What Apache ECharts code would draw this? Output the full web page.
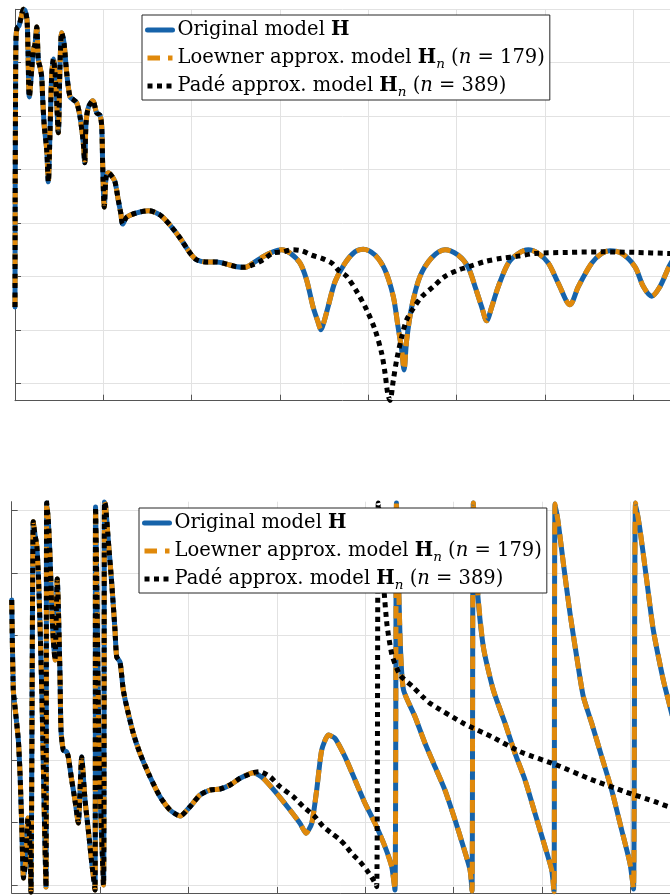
<!DOCTYPE html>
<html>
<head>
<meta charset="utf-8">
<script src="https://cdn.jsdelivr.net/npm/echarts@6/dist/echarts.min.js"></script>
<style>
  html, body { margin: 0; padding: 0; background: #fff; }
  #main { width: 670px; height: 895px; }
</style>
</head>
<body>
<div id="main"></div>
<script>
// magnitude plot (top)
var magTicks = [-70, -60, -50, -40, -30, -20, -10, 0];
var magX = [0, 0.002, 0.006, 0.011, 0.023, 0.045, 0.068, 0.096, 0.113, 0.136, 0.147, 0.162, 0.189, 0.207, 0.226, 0.246,
  0.264, 0.283, 0.302, 0.314, 0.332, 0.359, 0.377, 0.396, 0.415, 0.434, 0.464, 0.490, 0.509, 0.529, 0.555, 0.585,
  0.623, 0.660, 0.699, 0.736, 0.773, 0.789, 0.804, 0.830, 0.880, 0.925, 0.962, 0.982, 0.993, 1.011, 1.030, 1.056,
  1.095, 1.132, 1.169, 1.197, 1.219, 1.265, 1.378, 1.509, 1.642, 1.755, 1.868, 1.981, 2.057, 2.170, 2.283, 2.397,
  2.510, 2.604,
  2.695, 2.808, 2.921, 3.019, 3.113, 3.227, 3.302, 3.374, 3.430, 3.464, 3.498, 3.544, 3.623, 3.736, 3.849, 3.943,
  4.076, 4.189, 4.283, 4.336, 4.378, 4.404, 4.434, 4.491, 4.585, 4.717, 4.868, 5.015, 5.128, 5.208, 5.283, 5.340,
  5.397, 5.471, 5.585, 5.698, 5.811, 5.924, 6.038, 6.151, 6.283, 6.377, 6.529, 6.642, 6.736, 6.869, 7.019, 7.113,
  7.208, 7.302, 7.415, 7.53];
var magOrig = [-55.7, -35.7, -16.9, -5.7, -3.5, -3.1, -1.6, 0.0, -0.2, -2.0, -7.6, -16.4, -11.3, -7.6, -6.6, -3.3,
  -9.5, -10.8, -12.6, -16.9, -22.0, -26.3, -32.3, -23.1, -12.6, -9.3, -14.5, -23.1, -10.8, -4.4, -6.3, -11.9,
  -16.4, -16.9, -17.5, -20.1, -25.0, -28.7, -21.3, -18.4, -17.1, -19.4, -19.8, -22.0, -29.5, -37.0, -31.6, -30.6,
  -31.2, -32.3, -35.7, -38.1, -40.2, -38.9, -38.1, -37.7, -38.5, -40.4, -42.8, -45.6, -46.9, -47.3, -47.3, -47.7,
  -48.2, -48.3,
  -47.5, -46.3, -45.4, -45.0, -45.6, -47.5, -50.7, -55.7, -58.5, -60.0, -58.5, -55.7, -51.0, -47.5, -45.4, -44.9,
  -46.0, -48.8, -53.8, -59.4, -63.8, -67.5, -61.9, -55.7, -50.0, -46.5, -45.0, -46.0, -48.2, -51.9, -55.7, -58.3,
  -55.7, -51.9, -47.5, -45.7, -45.0, -45.7, -47.5, -51.3, -55.3, -51.9, -47.5, -45.7, -45.2, -45.7, -48.2, -51.9,
  -53.7, -51.9, -47.8, -45.0];
// Padé follows the original up to here, then its own tail
var magShared = 66;
var magPadeTailX = [2.695, 2.808, 2.921, 3.034, 3.133, 3.246, 3.359, 3.472, 3.585, 3.660, 3.755, 3.868, 3.982, 4.076,
  4.151, 4.189, 4.219, 4.245, 4.283, 4.321, 4.378, 4.434, 4.509, 4.604, 4.736, 4.868, 5.019, 5.132, 5.321, 5.510,
  5.698, 5.887, 6.264, 6.642, 7.019, 7.396, 7.64];
var magPadeTail = [-47.8, -46.9, -45.6, -45.4, -45.0, -45.2, -46.0, -46.6, -47.5, -48.8, -50.0, -52.8, -56.3, -60.0,
  -64.4, -68.1, -71.9, -73.2, -69.4, -65.6, -61.3, -58.1, -56.0, -53.8, -51.9, -50.0, -48.8, -48.2, -47.2, -46.6,
  -46.2, -45.7, -45.5, -45.4, -45.5, -45.7, -45.8];

// phase plot (bottom)
var phaseTicks = [-180, -120, -60, 0, 60, 120, 180];
var phaseX = [0, 0.018, 0.037, 0.075, 0.094, 0.113, 0.134, 0.162, 0.184, 0.207, 0.218, 0.244, 0.264, 0.283, 0.301,
  0.320, 0.343, 0.366, 0.388, 0.396, 0.414, 0.434, 0.453, 0.471, 0.490, 0.516, 0.528, 0.547, 0.558, 0.584, 0.623,
  0.641, 0.679, 0.716, 0.754, 0.774, 0.792, 0.830, 0.867, 0.906, 0.943, 0.949, 0.966, 0.988, 1.039, 1.050, 1.062,
  1.093, 1.132, 1.169, 1.188, 1.226, 1.263, 1.302, 1.376, 1.452, 1.565, 1.679, 1.792, 1.906, 2.018, 2.131, 2.244,
  2.358, 2.471, 2.584, 2.735,
  2.848, 2.999, 3.150, 3.263, 3.331, 3.396, 3.452, 3.509, 3.584, 3.659, 3.772, 3.886, 3.999, 4.112, 4.225, 4.301,
  4.338, 4.355, 4.378, 4.401, 4.435, 4.565, 4.678, 4.791, 4.904, 5.018, 5.112, 5.188, 5.210, 5.225, 5.263, 5.338,
  5.451, 5.584, 5.697, 5.810, 5.923, 6.036, 6.112, 6.138, 6.150, 6.187, 6.244, 6.319, 6.395, 6.470, 6.565, 6.678,
  6.791, 6.904, 6.998, 7.038, 7.061, 7.112, 7.187, 7.262, 7.375, 7.432, 7.474];
var phaseOrig = [94.0, 7.5, -8.6, -40.6, -72.3, -120.4, -173.3, -153.1, -115.6, -141.5, -186.7, 169.3, 156.5, 146.9,
  120, 71.9, -2.1, -98.3, -181.9, 187.3, 171, 135.4, 87.3, 55.6, 36.3, 114.2, 87.3, 20, -31, -50.2, -52.1, -56.9,
  -79, -98.3, -120.4, -88.7, -56.9, -98.3, -127.1, -158.8, -184.8, 183.5, 94, -50.2, -180, 188.3, 185.4, 151.7,
  110.4, 65.2, 39.5, 34.4, 7.5, -8.6, -34.1, -53.4, -75.9, -95.1, -107.9, -113.7, -104.7, -93.5, -88.7, -87.7,
  -83.8, -77.4, -72,
  -77.4, -91.8, -107.9, -120.7, -130.3, -120.7, -88.7, -50.2, -35.8, -38.9, -56.6, -79, -101.4, -120.7, -143.2,
  -162.4, -184.8, 187.3, 113.3, 46, 7.5, -18.2, -43.7, -66.2, -88.7, -117.5, -143.2, -165.6, -185.8, 187.3, 113.3,
  49.1, 7.5, -24.5, -53.4, -79, -111.1, -143.2, -165.6, -186.4, 186.3, 167.8, 129.3, 81.3, 39.5, 1.1, -24.5, -56.6,
  -88.7, -127.1, -159.1, -183.8, 187.3, 161.3, 113.3, 65.2, 17.1, -2.1, -16.5];
var phaseShared = 67;
var phasePadeTailX = [2.811, 2.924, 3.037, 3.187, 3.300, 3.433, 3.527, 3.622, 3.697, 3.773, 3.848, 3.942, 4.018,
  4.093, 4.131, 4.149, 4.180, 4.214, 4.248, 4.304, 4.395, 4.542, 4.655, 4.735, 5.112, 5.433, 5.753, 6.169, 6.526,
  6.942, 7.281, 7.432, 7.68];
var phasePadeTail = [-71.1, -75.9, -85.5, -95.1, -104.7, -114.3, -123.9, -130.3, -135.1, -141.5, -149.5, -157.6,
  -165.6, -175.2, -181.6, 187.3, 151.7, 103.7, 70, 41.2, 21.9, 10.4, 0.8, -5.3, -24.5, -37.4, -51.8, -64.6, -77.4,
  -90.3, -99.9, -104.7, -109.8];

var names = ['orig', 'loew', 'pade'];
var legendText = {
  orig: 'Original model {b|H}',
  loew: 'Loewner approx. model {b|H}{s|n} ({i|n} = 179)',
  pade: 'Padé approx. model {b|H}{s|n} ({i|n} = 389)'
};

function zip(xs, ys) {
  return xs.map(function (x, i) { return [x, ys[i]]; });
}

var blue = '#1663aa';
var orange = '#e0890b';
var serif = 'DejaVu Serif';
var fs = 19.5;

var magData = zip(magX, magOrig);
var magPade = zip(magX.slice(0, magShared).concat(magPadeTailX), magOrig.slice(0, magShared).concat(magPadeTail));
var phaseData = zip(phaseX, phaseOrig);
var phasePade = zip(phaseX.slice(0, phaseShared).concat(phasePadeTailX), phaseOrig.slice(0, phaseShared).concat(phasePadeTail));

function lineSeries(name, idx, data, style, smooth) {
  return {
    name: name,
    type: 'line',
    xAxisIndex: idx,
    yAxisIndex: idx,
    data: data,
    symbol: 'none',
    smooth: smooth,
    clip: false,
    color: style.color,
    animation: false,
    lineStyle: style
  };
}

var blueStyle = { color: blue, width: 5, cap: 'round', join: 'round' };
var orangeStyle = { color: orange, width: 5, type: [12.5, 8], cap: 'butt', join: 'round' };
var dotStyle = { color: '#000', width: 5, type: [5, 4.5], cap: 'butt', join: 'miter' };

function legendBox(left, top) {
  return {
    data: names,
    orient: 'vertical',
    left: left,
    top: top,
    padding: [2, 5, 1, 3],
    itemGap: 2,
    itemWidth: 25,
    itemHeight: 14,
    backgroundColor: '#fff',
    borderColor: '#262626',
    borderWidth: 1,
    borderRadius: 0,
    selectedMode: false,
    itemStyle: { opacity: 0 },
    lineStyle: { width: 5 },
    formatter: function (name) { return legendText[name]; },
    textStyle: {
      fontFamily: serif, fontSize: fs, color: '#000', lineHeight: 26,
      rich: {
        b: { fontFamily: serif, fontSize: fs, fontWeight: 'bold', color: '#000', lineHeight: 26 },
        i: { fontFamily: serif, fontSize: fs, fontStyle: 'italic', color: '#000', lineHeight: 26 },
        s: { fontFamily: serif, fontSize: 13.5, fontStyle: 'italic', color: '#000', lineHeight: 26, verticalAlign: 'bottom' }
      }
    }
  };
}

function xAxisFor(idx, max) {
  return {
    type: 'value',
    gridIndex: idx,
    min: 0,
    max: max,
    interval: 1,
    axisLine: { onZero: false, lineStyle: { color: '#555', width: 1 } },
    axisTick: { inside: true, length: 6, lineStyle: { color: '#555' } },
    axisLabel: { show: false },
    splitLine: { show: true, lineStyle: { color: '#e2e2e2', width: 1 } }
  };
}

function yAxisFor(idx, min, max, ticks) {
  return {
    type: 'value',
    gridIndex: idx,
    min: min,
    max: max,
    axisLine: { show: true, onZero: false, lineStyle: { color: '#555', width: 1 } },
    axisTick: { show: true, inside: true, length: 6, customValues: ticks, lineStyle: { color: '#555' } },
    axisLabel: { show: false, customValues: ticks },
    splitLine: { show: true, lineStyle: { color: '#e2e2e2', width: 1 } }
  };
}

var chart = echarts.init(document.getElementById('main'), null, { renderer: 'canvas' });

var option = {
  backgroundColor: '#fff',
  animation: false,
  grid: [
    { left: 15, right: 0, top: 9.3, height: 391.4 },
    { left: 11.7, right: 0, top: 501.7, height: 391.3 }
  ],
  xAxis: [xAxisFor(0, 7.415), xAxisFor(1, 7.451)],
  yAxis: [yAxisFor(0, -73.26, 0, magTicks), yAxisFor(1, -187.7, 188.6, phaseTicks)],
  legend: [legendBox(142, 15), legendBox(139, 508)],
  series: [
    lineSeries('orig', 0, magData, blueStyle, 0.3),
    lineSeries('loew', 0, magData, orangeStyle, 0.3),
    lineSeries('pade', 0, magPade, dotStyle, 0.3),
    lineSeries('orig', 1, phaseData, blueStyle, 0.2),
    lineSeries('loew', 1, phaseData, orangeStyle, 0.2),
    lineSeries('pade', 1, phasePade, dotStyle, 0.2)
  ]
};

chart.setOption(option);
</script>
</body>
</html>
